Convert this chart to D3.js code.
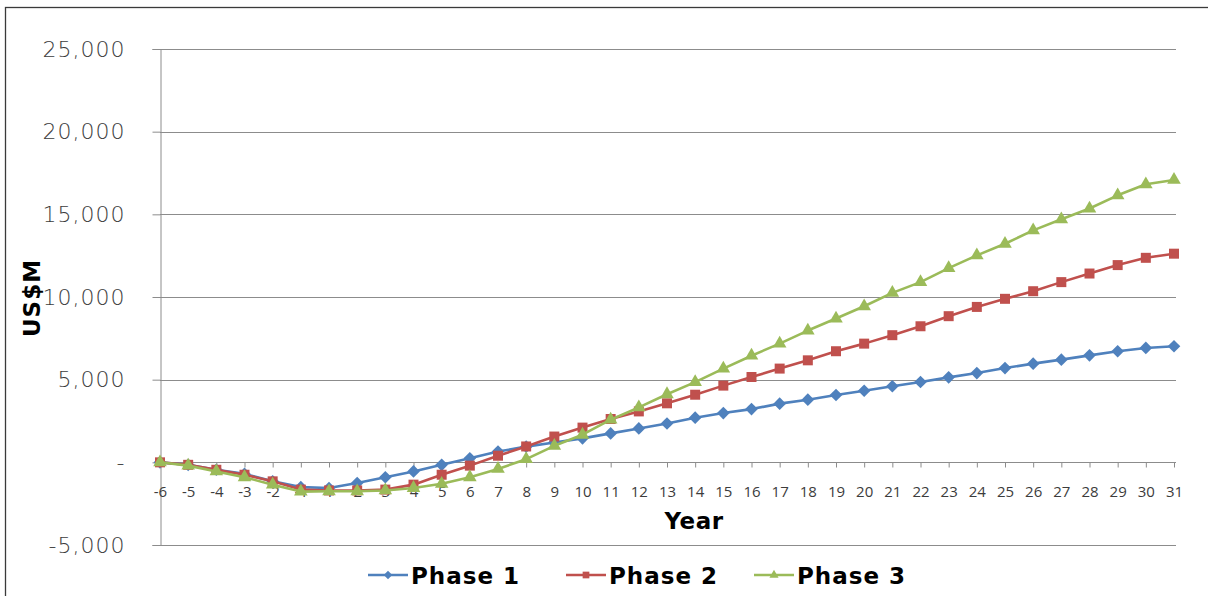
<!DOCTYPE html>
<html>
<head>
<meta charset="utf-8">
<script src="https://cdn.jsdelivr.net/npm/d3@7"></script>
<style>
  html, body { margin: 0; padding: 0; background: #ffffff; }
  svg { display: block; }
</style>
</head>
<body>
<svg id="chart" width="1208" height="596"></svg>
<script>
// Cumulative cash position by year, US$ millions
const years = [-6, -5, -4, -3, -2, -1, 1, 2, 3, 4, 5, 6, 7, 8, 9, 10, 11, 12, 13, 14, 15,
  16, 17, 18, 19, 20, 21, 22, 23, 24, 25, 26, 27, 28, 29, 30, 31];

const phase1 = [0, -150, -450, -700, -1150, -1500, -1550, -1250, -900, -550, -150, 250,
  650, 950, 1200, 1450, 1750, 2050, 2350, 2700, 2980, 3220, 3550, 3790, 4070, 4330,
  4600, 4860, 5140, 5400, 5700, 5970, 6210, 6470, 6720, 6920, 7020];

const phase2 = [0, -150, -450, -750, -1150, -1650, -1700, -1700, -1650, -1350, -750, -200,
  400, 960, 1560, 2100, 2620, 3080, 3570, 4090, 4640, 5160, 5670, 6170, 6720, 7180,
  7690, 8230, 8840, 9400, 9890, 10350, 10900, 11420, 11930, 12370, 12620];

const phase3 = [0, -200, -550, -900, -1350, -1770, -1750, -1750, -1700, -1550, -1300, -900,
  -400, 190, 1000, 1670, 2580, 3320, 4120, 4850, 5670, 6450, 7180, 7970, 8700, 9440,
  10250, 10900, 11750, 12520, 13220, 14030, 14700, 15350, 16150, 16820, 17080];

const seriesNames = ["Phase 1", "Phase 2", "Phase 3"];
const yTicks = [-5000, 0, 5000, 10000, 15000, 20000, 25000];

// marker shapes: diamond is a square turned 45 degrees
const series = [
  { name: seriesNames[0], values: phase1, color: "#4F81BD", symbol: d3.symbolSquare, size: 80, rotate: 45 },
  { name: seriesNames[1], values: phase2, color: "#C0504D", symbol: d3.symbolSquare, size: 100, rotate: 0 },
  { name: seriesNames[2], values: phase3, color: "#9BBB59", symbol: d3.symbolTriangle, size: 80, rotate: 0 }
];

const svg = d3.select("#chart");
const gridColor = "#8c8c8c";
const labelFont = "'DejaVu Sans', 'Open Sans', sans-serif";
const smallFont = "'Open Sans', 'DejaVu Sans', sans-serif";
const boldFont = "'DejaVu Sans', 'Open Sans', sans-serif";

// chart frame
svg.append("rect")
  .attr("x", 5.5).attr("y", 7.5)
  .attr("width", 1230).attr("height", 620)
  .attr("fill", "#ffffff")
  .attr("stroke", "#3a3a3a").attr("stroke-width", 1.3);

const x = d3.scalePoint().domain(years).range([160, 1174]);
const y = d3.scaleLinear().domain([-5000, 25000]).range([545, 49]);

const fmt = d => d === 0 ? "-" : d3.format(",")(d).replace("\u2212", "-");

// value axis with outward tick stubs
const yAxis = d3.axisLeft(y)
  .tickValues(yTicks)
  .tickSize(8)
  .tickPadding(27)
  .tickFormat(fmt);

const yg = svg.append("g").attr("transform", "translate(160.5,0)").call(yAxis);
yg.select(".domain").attr("stroke", gridColor);
yg.selectAll(".tick line").attr("stroke", gridColor);
yg.selectAll(".tick text")
  .attr("font-family", labelFont)
  .attr("font-size", 22)
  .attr("font-weight", 200)
  .attr("letter-spacing", 1)
  .attr("fill", "#3c3c3c");

// horizontal gridlines
svg.append("g").selectAll("line")
  .data(yTicks.filter(v => v !== 0))
  .join("line")
  .attr("x1", 160).attr("x2", 1176)
  .attr("y1", d => Math.round(y(d)) + 0.5)
  .attr("y2", d => Math.round(y(d)) + 0.5)
  .attr("stroke", gridColor).attr("stroke-width", 1);

// category axis at zero
const xAxis = d3.axisBottom(x).tickSize(5).tickPadding(19).tickSizeOuter(0);
const xg = svg.append("g")
  .attr("transform", `translate(0,${Math.round(y(0)) + 0.5})`)
  .call(xAxis);
xg.select(".domain").attr("stroke", gridColor).attr("d", `M160,0H1176`);
xg.selectAll(".tick line").attr("stroke", gridColor);
xg.selectAll(".tick text")
  .attr("font-family", smallFont)
  .attr("font-size", 15)
  .attr("fill", "#3c3c3c");

// axis titles
svg.append("text")
  .attr("x", 694).attr("y", 529)
  .attr("text-anchor", "middle")
  .attr("font-family", boldFont).attr("font-weight", "bold")
  .attr("font-size", 23).attr("letter-spacing", 0.5).attr("fill", "#000")
  .text("Year");

svg.append("text")
  .attr("transform", "translate(40,298) rotate(-90)")
  .attr("text-anchor", "middle")
  .attr("font-family", boldFont).attr("font-weight", "bold")
  .attr("font-size", 23).attr("letter-spacing", 1).attr("fill", "#000")
  .text("US$M");

// series lines and markers
const line = d3.line()
  .x((d, i) => x(years[i]))
  .y(d => y(d));

series.forEach(s => {
  const g = svg.append("g");
  g.append("path")
    .datum(s.values)
    .attr("fill", "none")
    .attr("stroke", s.color)
    .attr("stroke-width", 2.6)
    .attr("stroke-linejoin", "round")
    .attr("d", line);
  g.selectAll("path.marker")
    .data(s.values)
    .join("path")
    .attr("class", "marker")
    .attr("transform", (d, i) => `translate(${x(years[i])},${y(d)}) rotate(${s.rotate})`)
    .attr("d", d3.symbol().type(s.symbol).size(s.size))
    .attr("fill", s.color);
});

// legend
const legendX = [368, 566, 754];
const legendY = 575;
series.forEach((s, i) => {
  const g = svg.append("g").attr("transform", `translate(${legendX[i]},${legendY})`);
  g.append("line")
    .attr("x1", 0).attr("x2", 40)
    .attr("y1", 0).attr("y2", 0)
    .attr("stroke", s.color).attr("stroke-width", 2.6);
  g.append("path")
    .attr("transform", `translate(20,0) rotate(${s.rotate})`)
    .attr("d", d3.symbol().type(s.symbol).size(s.size * 0.45))
    .attr("fill", s.color);
  g.append("text")
    .attr("x", 43).attr("y", 8.5)
    .attr("font-family", boldFont).attr("font-weight", "bold")
    .attr("font-size", 23).attr("letter-spacing", 1).attr("fill", "#000")
    .text(s.name);
});
</script>
</body>
</html>
